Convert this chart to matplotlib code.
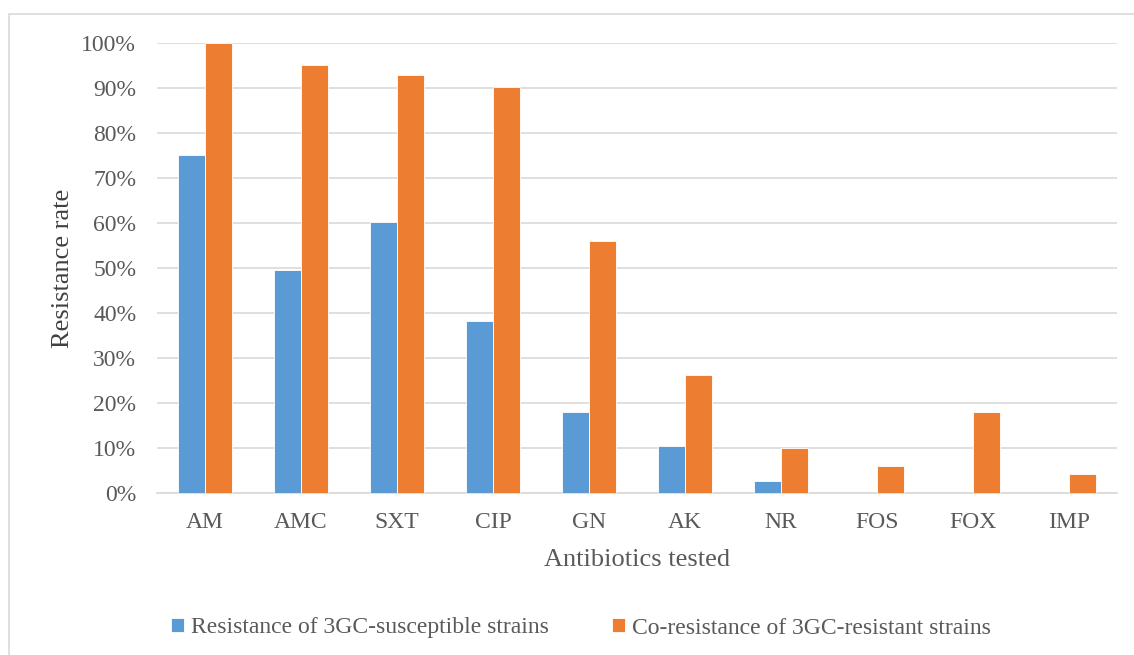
import numpy as np
import matplotlib.pyplot as plt
from matplotlib.patches import Rectangle
from matplotlib.ticker import PercentFormatter

# data (percent)
antibiotics = ["AM", "AMC", "SXT", "CIP", "GN", "AK", "NR", "FOS", "FOX", "IMP"]
susceptible = [75.2, 49.6, 60.2, 38.2, 18.1, 10.4, 2.7, 0, 0, 0]
resistant = [100, 95.2, 93.0, 90.3, 56.0, 26.2, 10.0, 6.0, 18.0, 4.2]

plt.rcParams['font.family'] = ['Liberation Serif', 'DejaVu Serif']
text_col = '#595959'

fig = plt.figure(figsize=(11.34, 6.55), dpi=100)
ax = fig.add_axes([157 / 1134, 1 - 493 / 655, 960 / 1134, 450 / 655])

# light frame around the chart area
fig.patches.append(Rectangle((9 / 1134, -0.1), 1.2, 0.1 + (1 - 14 / 655),
                             transform=fig.transFigure, fill=False,
                             edgecolor='#d9d9d9', linewidth=1.2))

x = np.arange(len(antibiotics))
w = 0.285
ax.bar(x - w / 2, susceptible, w, color='#5b9bd5', edgecolor='white', linewidth=0.6,
       label='Resistance of 3GC-susceptible strains', zorder=3)
ax.bar(x + w / 2, resistant, w, color='#ed7d31', edgecolor='white', linewidth=0.6,
       label='Co-resistance of 3GC-resistant strains', zorder=3)

ax.set_xlim(-0.5, len(antibiotics) - 0.5)
ax.set_ylim(0, 100)
ax.set_yticks(np.arange(0, 101, 10))
ax.yaxis.set_major_formatter(PercentFormatter(decimals=0))
ax.set_xticks(x)
ax.set_xticklabels(antibiotics)
ax.grid(axis='y', color='#d9d9d9', linewidth=1.2, zorder=0)
ax.set_axisbelow(True)

for s in ['top', 'right', 'left']:
    ax.spines[s].set_visible(False)
ax.spines['bottom'].set_color('#d9d9d9')
ax.spines['bottom'].set_linewidth(1.2)
ax.tick_params(length=0, labelsize=17, colors=text_col)
ax.tick_params(axis='y', pad=15)
ax.tick_params(axis='x', pad=14)

ax.set_xlabel('Antibiotics tested', fontsize=19, color=text_col, labelpad=11)
ax.set_ylabel('Resistance rate', fontsize=19, color='#404040', labelpad=5)

fig.legend(loc='center', bbox_to_anchor=(581 / 1134, 1 - 628 / 655), ncol=2, frameon=False,
           fontsize=17, labelcolor=text_col, handlelength=0.55, handleheight=0.55,
           handletextpad=0.3, columnspacing=2.7)

fig.savefig('out.png', dpi=100)
